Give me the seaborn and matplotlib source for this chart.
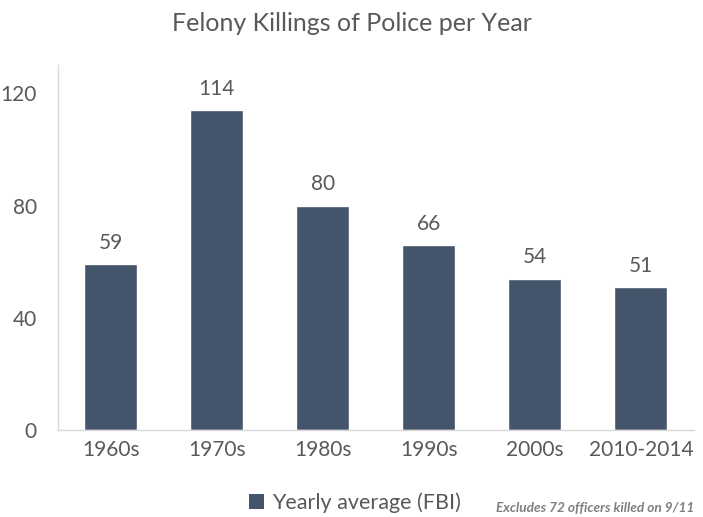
import matplotlib
matplotlib.use("Agg")
import matplotlib.pyplot as plt
import seaborn as sns
import pandas as pd
from matplotlib.patches import Patch

decades = ["1960s", "1970s", "1980s", "1990s", "2000s", "2010-2014"]
killings = [59, 114, 80, 66, 54, 51]
yticks = [0, 40, 80, 120]

sns.set_theme(style="white")
plt.rcParams['font.family'] = ['Lato', 'DejaVu Sans']

bar_color = "#44546A"
text_color = "#595959"

df = pd.DataFrame({"decade": decades, "value": killings})

fig = plt.figure(figsize=(7.03, 5.17), dpi=100)
ax = fig.add_axes([0.082, 0.168, 0.905, 0.706])
sns.barplot(data=df, x="decade", y="value", color=bar_color, saturation=1,
            width=0.5, ax=ax)

ax.set_ylim(0, 130)
ax.set_yticks(yticks)
ax.set_xlim(-0.5, len(decades) - 0.5)
ax.set_xlabel("")
ax.set_ylabel("")
ax.tick_params(axis="both", colors=text_color, labelsize=15, length=0)
ax.tick_params(axis="y", pad=15)
ax.tick_params(axis="x", pad=7)
for lab in ax.get_xticklabels() + ax.get_yticklabels():
    lab.set_color(text_color)

for s in ["top", "right"]:
    ax.spines[s].set_visible(False)
for s in ["left", "bottom"]:
    ax.spines[s].set_color("#D9D9D9")
    ax.spines[s].set_linewidth(1.0)

for container in ax.containers:
    ax.bar_label(container, labels=[str(v) for v in killings], padding=8,
                 fontsize=15, color=text_color)

fig.text(0.5, 0.955, "Felony Killings of Police per Year", ha="center", va="center",
         fontsize=18, color=text_color)

handles = [Patch(facecolor=bar_color, edgecolor="none", label="Yearly average (FBI)")]
fig.legend(handles=handles, loc="center", bbox_to_anchor=(0.505, 0.027), frameon=False,
           fontsize=15.5, labelcolor=text_color, handlelength=0.7, handleheight=0.7,
           handletextpad=0.4)

fig.text(0.988, 0.018, "Excludes 72 officers killed on 9/11", ha="right", va="center",
         fontsize=9.8, color="#7F7F7F", style="italic", fontweight="bold")

fig.savefig("out.png", dpi=100, facecolor="white")
